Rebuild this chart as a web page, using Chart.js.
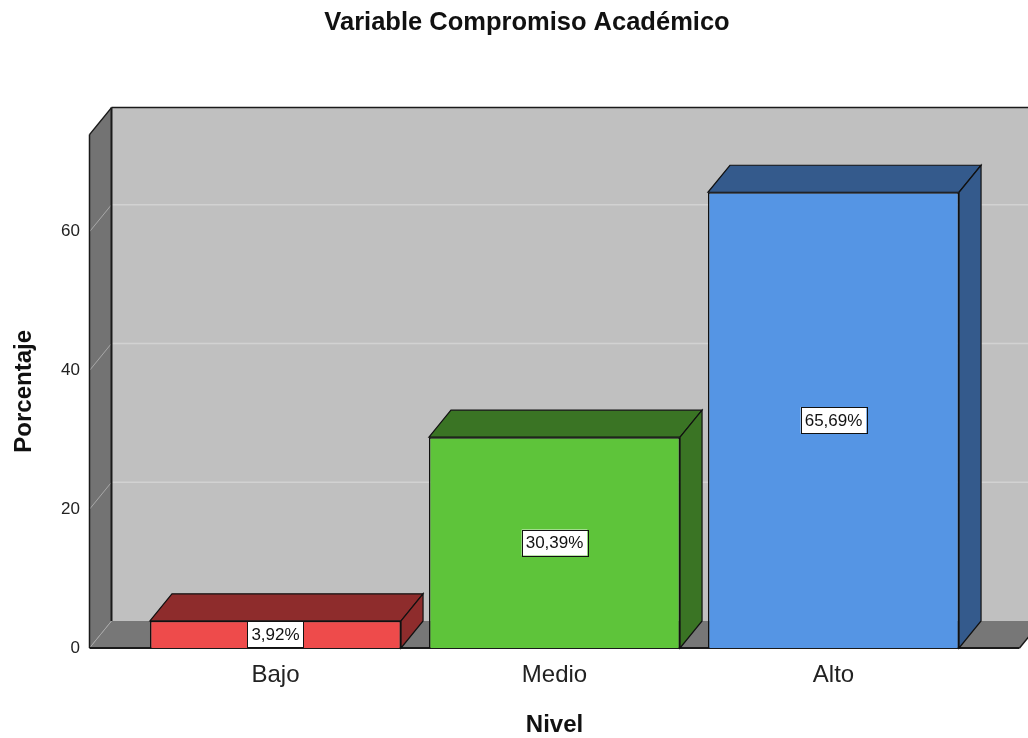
<!DOCTYPE html>
<html>
<head>
<meta charset="utf-8">
<title>Variable Compromiso Académico</title>
<script src="https://cdn.jsdelivr.net/npm/chart.js@4.4.1/dist/chart.umd.min.js"></script>
<style>
    html, body { margin: 0; padding: 0; background: #ffffff; }
    #wrap { width: 1028px; height: 738px; }
</style>
</head>
<body>
<div id="wrap"><canvas id="nivelChart" width="1028" height="738"></canvas></div>
<script>
// Data
const niveles = ['Bajo', 'Medio', 'Alto'];
const porcentajes = [3.92, 30.39, 65.69];
const yTicks = [0, 20, 40, 60];
const yMax = 74;

// Colours (front face / shaded faces)
const frontColors = ['#ee4b4b', '#5ec43a', '#5595e4'];
const shadeColors = ['#8e2c2c', '#3a7424', '#345a8c'];

const FONT = '"Liberation Sans", Arial, sans-serif';
const DEPTH_X = 22;
const DEPTH_Y = 27;

// Format value like SPSS: 3,92%
function formatPct(v) {
    return v.toFixed(2).replace('.', ',') + '%';
}

function poly(ctx, pts, fill, stroke, lw) {
    ctx.beginPath();
    ctx.moveTo(pts[0][0], pts[0][1]);
    for (let i = 1; i < pts.length; i++) ctx.lineTo(pts[i][0], pts[i][1]);
    ctx.closePath();
    if (fill) { ctx.fillStyle = fill; ctx.fill(); }
    if (stroke) { ctx.strokeStyle = stroke; ctx.lineWidth = lw || 1; ctx.stroke(); }
}

function line(ctx, x1, y1, x2, y2, color, lw) {
    ctx.beginPath();
    ctx.moveTo(x1, y1);
    ctx.lineTo(x2, y2);
    ctx.strokeStyle = color;
    ctx.lineWidth = lw;
    ctx.stroke();
}

// Plugin: 3D walls, floor and gridlines behind the bars, shaded bar faces and labels
const boxPlugin = {
    id: 'box3d',
    beforeDatasetsDraw(chart) {
        const { ctx, chartArea } = chart;
        const x = chart.scales.x;
        const y = chart.scales.y;
        const step = x.getPixelForValue(1) - x.getPixelForValue(0);
        const fl = chartArea.left - step / 6;
        const fr = chartArea.right + step / 6;
        const base = y.getPixelForValue(0);
        const top = y.getPixelForValue(yMax);

        ctx.save();
        // back wall
        poly(ctx, [[fl + DEPTH_X, top - DEPTH_Y], [fr + DEPTH_X + 40, top - DEPTH_Y],
                   [fr + DEPTH_X + 40, base - DEPTH_Y], [fl + DEPTH_X, base - DEPTH_Y]], '#c0c0c0');
        // left wall
        poly(ctx, [[fl, base], [fl, top], [fl + DEPTH_X, top - DEPTH_Y], [fl + DEPTH_X, base - DEPTH_Y]], '#737373');
        // floor
        poly(ctx, [[fl, base], [fl + DEPTH_X, base - DEPTH_Y], [fr + DEPTH_X, base - DEPTH_Y], [fr, base]], '#777777');

        // gridlines
        yTicks.forEach(t => {
            const py = y.getPixelForValue(t);
            line(ctx, fl, py, fl + DEPTH_X, py - DEPTH_Y, '#a8a8a8', 1);
            if (t > 0) line(ctx, fl + DEPTH_X, py - DEPTH_Y, fr + DEPTH_X + 40, py - DEPTH_Y, '#d2d2d2', 1.5);
        });

        // edges
        const ink = '#1a1a1a';
        line(ctx, fl, base, fl, top, ink, 1.5);
        line(ctx, fl, top, fl + DEPTH_X, top - DEPTH_Y, ink, 1.5);
        line(ctx, fl + DEPTH_X, top - DEPTH_Y, fr + DEPTH_X + 40, top - DEPTH_Y, ink, 1.5);
        line(ctx, fl + DEPTH_X, top - DEPTH_Y, fl + DEPTH_X, base - DEPTH_Y, ink, 2);
        line(ctx, fl, base, fr, base, ink, 2);
        line(ctx, fr, base, fr + DEPTH_X, base - DEPTH_Y, ink, 1.5);
        ctx.restore();
    },
    afterDatasetsDraw(chart) {
        const { ctx } = chart;
        const y = chart.scales.y;
        const base = y.getPixelForValue(0);
        const meta = chart.getDatasetMeta(0);

        ctx.save();
        meta.data.forEach((bar, i) => {
            const half = bar.width / 2;
            const x1 = bar.x - half;
            const x2 = bar.x + half;
            const yt = bar.y;
            // top face
            poly(ctx, [[x1, yt], [x1 + DEPTH_X, yt - DEPTH_Y], [x2 + DEPTH_X, yt - DEPTH_Y], [x2, yt]],
                 shadeColors[i], '#111111', 1.2);
            // side face
            poly(ctx, [[x2, yt], [x2 + DEPTH_X, yt - DEPTH_Y], [x2 + DEPTH_X, base - DEPTH_Y], [x2, base]],
                 shadeColors[i], '#111111', 1.2);
        });

        // value labels
        ctx.font = '17px ' + FONT;
        ctx.textAlign = 'center';
        ctx.textBaseline = 'middle';
        meta.data.forEach((bar, i) => {
            const txt = formatPct(porcentajes[i]);
            const w = ctx.measureText(txt).width + 8;
            const h = 26;
            const cy = (bar.y + base) / 2;
            ctx.fillStyle = '#ffffff';
            ctx.fillRect(bar.x - w / 2, cy - h / 2, w, h);
            ctx.strokeStyle = '#111111';
            ctx.lineWidth = 1;
            ctx.strokeRect(Math.round(bar.x - w / 2) + 0.5, Math.round(cy - h / 2) + 0.5, Math.round(w), h);
            ctx.fillStyle = '#111111';
            ctx.fillText(txt, bar.x, cy + 1);
        });
        ctx.restore();
    }
};

const chart = new Chart(document.getElementById('nivelChart'), {
    type: 'bar',
    data: {
        labels: niveles,
        datasets: [{
            label: 'Porcentaje',
            data: porcentajes,
            backgroundColor: frontColors,
            borderColor: '#111111',
            borderWidth: 1.5,
            barPercentage: 0.9,
            categoryPercentage: 1
        }]
    },
    options: {
        responsive: false,
        animation: false,
        layout: { padding: { left: 26, right: 0 } },
        plugins: {
            legend: { display: false },
            tooltip: { enabled: false },
            title: {
                display: true,
                text: 'Variable Compromiso Académico',
                color: '#111111',
                font: { family: FONT, size: 25.5, weight: 'bold', lineHeight: 1.2 },
                padding: { top: 8, bottom: 96 }
            }
        },
        scales: {
            x: {
                grid: { display: false },
                border: { display: false },
                ticks: { color: '#222222', font: { family: FONT, size: 24 }, padding: 5 },
                title: {
                    display: true,
                    text: 'Nivel',
                    color: '#111111',
                    font: { family: FONT, size: 24, weight: 'bold', lineHeight: 1.2 },
                    padding: { top: 0, bottom: -2 }
                },
                afterFit(scale) { scale.height = 90; }
            },
            y: {
                min: 0,
                max: yMax,
                grid: { display: false },
                border: { display: false },
                ticks: {
                    stepSize: 20,
                    includeBounds: false,
                    color: '#222222',
                    font: { family: FONT, size: 17 },
                    padding: 48
                },
                title: {
                    display: true,
                    text: 'Porcentaje',
                    color: '#111111',
                    font: { family: FONT, size: 24, weight: 'bold', lineHeight: 1.2 },
                    padding: { top: -16, bottom: 0 }
                },
                afterFit(scale) { scale.width = 110; }
            },
            // empty right-hand axis that only reserves the space beyond the floor
            yRight: {
                position: 'right',
                grid: { display: false },
                border: { display: false },
                ticks: { display: false },
                afterFit(scale) { scale.width = 55; }
            }
        }
    },
    plugins: [boxPlugin]
});
</script>
</body>
</html>
